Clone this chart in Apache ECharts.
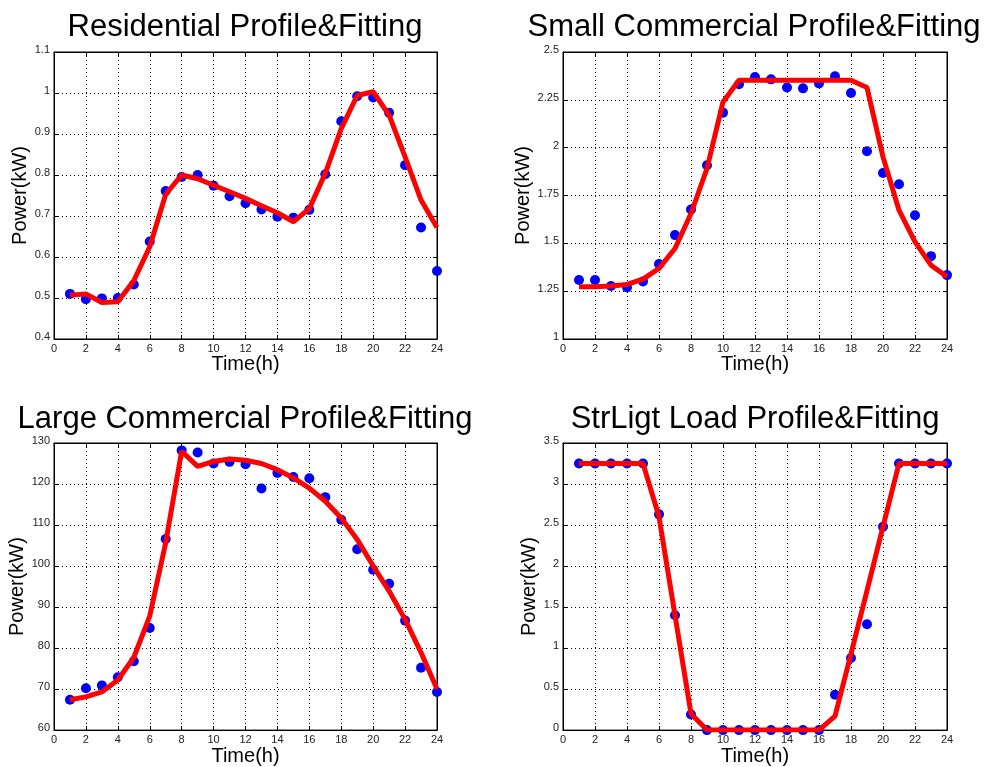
<!DOCTYPE html>
<html>
<head>
<meta charset="utf-8">
<script src="https://cdn.jsdelivr.net/npm/echarts@6/dist/echarts.min.js"></script>
<style>
  html, body { margin: 0; padding: 0; background: #fff; }
  #chart { width: 984px; height: 767px; }
</style>
</head>
<body>
<div id="chart"></div>
<script>
// hours of the day
const hours = [1, 2, 3, 4, 5, 6, 7, 8, 9, 10, 11, 12, 13, 14, 15, 16, 17, 18, 19, 20, 21, 22, 23, 24];

// residential
const resProfile = [0.510, 0.497, 0.499, 0.500, 0.533, 0.638, 0.761, 0.795, 0.800, 0.774, 0.748, 0.731,
                    0.716, 0.698, 0.696, 0.715, 0.802, 0.931, 0.992, 0.989, 0.952, 0.824, 0.672, 0.566];
const resFit = [0.507, 0.510, 0.489, 0.491, 0.542, 0.625, 0.753, 0.800, 0.791, 0.775, 0.759, 0.743,
                0.725, 0.708, 0.686, 0.718, 0.804, 0.913, 0.994, 1.003, 0.946, 0.844, 0.739, 0.672];

// small commercial
const smallProfile = [1.308, 1.308, 1.277, 1.270, 1.301, 1.392, 1.543, 1.677, 1.908, 2.183, 2.331, 2.369,
                      2.357, 2.314, 2.310, 2.335, 2.373, 2.286, 1.981, 1.868, 1.809, 1.647, 1.433, 1.334];
const smallFit = [1.273, 1.273, 1.277, 1.285, 1.313, 1.369, 1.473, 1.656, 1.891, 2.239, 2.352, 2.352,
                  2.352, 2.352, 2.352, 2.352, 2.352, 2.352, 2.314, 1.952, 1.673, 1.508, 1.386, 1.325];

// large commercial
const largeProfile = [67.4, 70.2, 70.9, 72.9, 76.8, 84.9, 106.6, 128.2, 127.7, 125.0, 125.4, 124.8,
                      118.9, 122.7, 121.7, 121.4, 116.8, 111.3, 104.1, 99.1, 95.7, 86.7, 75.2, 69.3];
const largeFit = [67.4, 68.1, 69.3, 72.2, 77.7, 87.8, 105.7, 128.0, 124.3, 125.5, 126.1, 125.8,
                  125.0, 123.5, 121.5, 119.0, 115.8, 111.7, 106.5, 100.0, 93.9, 87.0, 78.9, 70.0];

// street light
const lightProfile = [3.25, 3.25, 3.25, 3.25, 3.25, 2.63, 1.40, 0.19, 0, 0, 0, 0,
                      0, 0, 0, 0, 0.43, 0.88, 1.29, 2.48, 3.25, 3.25, 3.25, 3.25];
const lightFit = [3.25, 3.25, 3.25, 3.25, 3.25, 2.60, 1.40, 0.20, 0, 0, 0, 0,
                  0, 0, 0, 0, 0.17, 0.93, 1.70, 2.48, 3.25, 3.25, 3.25, 3.25];

// axis ranges: [min, max, interval]
const xRange = [0, 24, 2];
const resRange = [0.4, 1.1, 0.1];
const smallRange = [1, 2.5, 0.25];
const largeRange = [60, 130, 10];
const lightRange = [0, 3.5, 0.5];

const titles = ['Residential Profile&Fitting', 'Small Commercial Profile&Fitting',
                'Large Commercial Profile&Fitting', 'StrLigt Load Profile&Fitting'];

const panels = [
  { left: 54,  top: 52,  width: 383, height: 287, range: resRange,   gap: 23, profile: resProfile,   fit: resFit,   tx: 245, ty: 27 },
  { left: 563, top: 52,  width: 384, height: 287, range: smallRange, gap: 29, profile: smallProfile, fit: smallFit, tx: 754, ty: 27 },
  { left: 54,  top: 443, width: 383, height: 288, range: largeRange, gap: 27, profile: largeProfile, fit: largeFit, tx: 245, ty: 419 },
  { left: 563, top: 443, width: 384, height: 288, range: lightRange, gap: 24, profile: lightProfile, fit: lightFit, tx: 755, ty: 419 }
];

const font = 'Liberation Sans, Arial, Helvetica, sans-serif';

function pairs(ys) {
  return hours.map((h, i) => [h, ys[i]]);
}

const grid = [], xAxis = [], yAxis = [], series = [], graphic = [];
const dotted = { show: true, lineStyle: { color: '#000', type: [1, 3], width: 1 } };
const tick = { show: true, inside: true, length: 4, lineStyle: { color: '#000' } };
const line = { show: true, onZero: false, lineStyle: { color: '#000', width: 1 } };

panels.forEach((p, i) => {
  grid.push({
    left: p.left, top: p.top, width: p.width, height: p.height,
    show: true, borderColor: '#000', borderWidth: 1, backgroundColor: '#fff'
  });
  xAxis.push({
    type: 'value', gridIndex: i, position: 'bottom',
    min: xRange[0], max: xRange[1], interval: xRange[2],
    name: 'Time(h)', nameLocation: 'middle', nameGap: 12,
    nameTextStyle: { fontFamily: font, fontSize: 20, color: '#000' },
    axisLine: line, axisTick: tick,
    axisLabel: { margin: 4, fontFamily: font, fontSize: 11, color: '#222', showMinLabel: true, showMaxLabel: true, hideOverlap: false },
    splitLine: dotted
  });
  yAxis.push({
    type: 'value', gridIndex: i, position: 'left',
    min: p.range[0], max: p.range[1], interval: p.range[2],
    name: 'Power(kW)', nameLocation: 'middle', nameGap: p.gap,
    nameTextStyle: { fontFamily: font, fontSize: 20, color: '#000' },
    axisLine: line, axisTick: tick,
    axisLabel: { margin: 4, verticalAlign: 'bottom', lineHeight: 4, fontFamily: font, fontSize: 11, color: '#222', showMinLabel: true, showMaxLabel: true },
    splitLine: dotted
  });
  // measured profile
  series.push({
    type: 'scatter', xAxisIndex: i, yAxisIndex: i,
    data: pairs(p.profile),
    symbol: 'circle', symbolSize: 10,
    itemStyle: { color: '#0000ff', opacity: 1 },
    z: 2
  });
  // fitted curve
  series.push({
    type: 'line', xAxisIndex: i, yAxisIndex: i,
    data: pairs(p.fit),
    showSymbol: false,
    lineStyle: { color: '#ff0000', width: 5 },
    z: 3
  });
  graphic.push({
    type: 'text', x: p.tx, y: p.ty,
    style: {
      text: titles[i], font: '31px ' + font, fill: '#000',
      textAlign: 'center', textVerticalAlign: 'middle'
    }
  });
});

// box ticks on top and right edges
panels.forEach((p, i) => {
  xAxis.push({
    type: 'value', gridIndex: i, position: 'top',
    min: xRange[0], max: xRange[1], interval: xRange[2],
    axisLine: line, axisTick: tick, axisLabel: { show: false }, splitLine: { show: false }
  });
  yAxis.push({
    type: 'value', gridIndex: i, position: 'right',
    min: p.range[0], max: p.range[1], interval: p.range[2],
    axisLine: line, axisTick: tick, axisLabel: { show: false }, splitLine: { show: false }
  });
});

const chart = echarts.init(document.getElementById('chart'));
chart.setOption({
  animation: false,
  backgroundColor: '#fff',
  grid: grid,
  xAxis: xAxis,
  yAxis: yAxis,
  series: series,
  graphic: graphic
});
</script>
</body>
</html>
